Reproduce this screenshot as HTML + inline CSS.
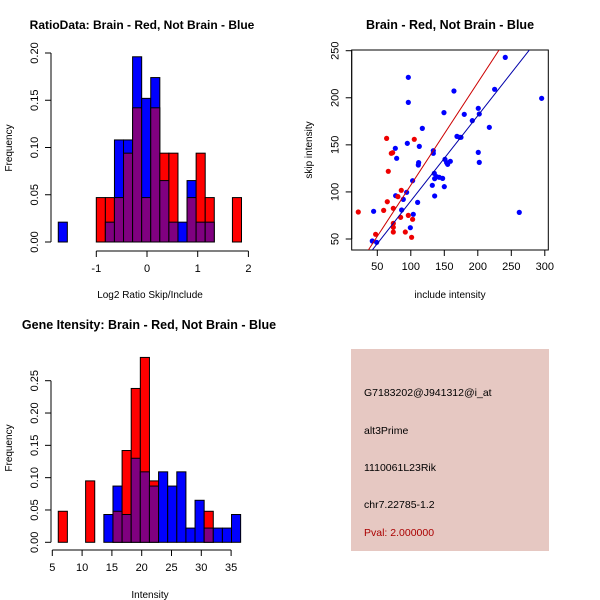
<!DOCTYPE html>
<html><head><meta charset="utf-8"><style>
body{margin:0;background:#fff}
svg{display:block;font-family:"Liberation Sans",sans-serif}
</style></head><body>
<svg id="c" width="600" height="600" xmlns="http://www.w3.org/2000/svg"></svg>
<script>
// ---------- Data: Ratio histogram ----------
const ratioBinWidth = 0.179;
const ratioRedStarts = [-1.0,-0.821,-0.642,-0.463,-0.284,-0.105,0.074,0.253,0.432,0.611,0.79,0.969,1.148,1.327,1.506,1.685];
const ratioRed = [0.047,0.047,0.047,0.094,0.142,0.047,0.142,0.094,0.094,0,0.047,0.094,0.047,0,0,0.047];
const ratioBlueStarts = [-1.75,-1.0,-0.821,-0.642,-0.463,-0.284,-0.105,0.074,0.253,0.432,0.611,0.79,0.969,1.148];
const ratioBlue = [0.021,0,0.021,0.108,0.108,0.196,0.152,0.174,0.065,0.021,0.021,0.065,0.021,0.021];
const ratioXTicks = [-1,0,1,2];
const ratioYTicks = ["0.00","0.05","0.10","0.15","0.20"];
// ---------- Data: Intensity histogram ----------
const intBinStart = 6.0, intBinWidth = 1.53;
const intRed = [0.048,0,0,0.095,0,0,0.048,0.142,0.238,0.286,0.095,0,0,0,0,0,0.048,0,0,0];
const intBlue = [0,0,0,0,0,0.043,0.087,0.043,0.130,0.109,0.087,0.109,0.087,0.109,0.022,0.065,0.022,0.022,0.022,0.043];
const intXTicks = [5,10,15,20,25,30,35];
const intYTicks = ["0.00","0.05","0.10","0.15","0.20","0.25"];
// ---------- Data: scatter ----------
const blueX = [42.5,44.5,49.0,77.4,76.9,78.9,86.3,88.8,93.8,94.8,96.3,96.3,99.3,102.7,103.7,110.2,111.7,111.2,112.7,117.2,132.1,133.6,133.6,135.1,135.6,135.6,138.6,142.5,147.5,150.0,149.5,151.0,153.5,155.0,159.0,164.4,168.9,172.9,174.9,179.8,191.8,200.7,202.2,200.7,202.2,217.2,225.1,241.0,261.9,295.3];
const blueY = [47.9,79.4,46.5,96.0,146.3,135.7,80.8,92.1,99.6,151.6,221.7,195.1,62.0,111.9,76.2,88.9,131.1,128.6,148.4,167.5,107.0,143.8,141.0,119.7,114.1,95.7,116.2,115.5,114.4,105.6,184.2,134.6,131.1,129.3,132.5,207.2,159.0,158.0,158.0,182.4,175.7,188.8,182.8,142.0,131.4,168.6,209.0,242.9,78.3,199.4];
const redX = [21.6,47.5,59.5,64.9,63.9,66.4,70.9,72.9,73.9,73.9,73.9,73.9,80.8,84.8,85.8,91.8,96.3,101.2,102.7,105.2];
const redY = [78.7,55.0,80.4,89.6,156.9,121.9,141.0,141.7,82.6,66.6,62.4,57.4,95.0,73.0,101.7,57.4,75.1,51.8,70.9,155.9];
const redFit = [-1.6,1.089];
const blueFit = [-0.2,0.906];
const scatXTicks = [50,100,150,200,250,300];
const scatYTicks = [50,100,150,200,250];

const NS="http://www.w3.org/2000/svg";
const svg=document.getElementById('c');
function el(tag,attrs,parent,txt){const e=document.createElementNS(NS,tag);for(const k in attrs)e.setAttribute(k,attrs[k]);if(txt!==undefined)e.textContent=txt;(parent||svg).appendChild(e);return e;}
const PURPLE='#800080';

function hist(g,sx,sy,starts,w,red,blueStarts,blue,nameP){
  const bars=[];
  starts.forEach((s,i)=>bars.push({s,r:red[i],b:0}));
  blueStarts.forEach((s,i)=>{let f=bars.find(o=>Math.abs(o.s-s)<1e-6);if(f)f.b=blue[i];else bars.push({s,r:0,b:blue[i]});});
  bars.forEach((o,i)=>{
    const x0=sx(o.s),x1=sx(o.s+w);
    const hi=Math.max(o.r,o.b),lo=Math.min(o.r,o.b);
    if(hi>0){const r=el('rect',{x:x0,y:sy(hi),width:x1-x0,height:sy(0)-sy(hi),fill:o.r>=o.b?'#ff0000':'#0000ff',stroke:'#000','stroke-width':1},g);
      
      }
    if(lo>0){const r=el('rect',{x:x0,y:sy(lo),width:x1-x0,height:sy(0)-sy(lo),fill:PURPLE,stroke:'#000','stroke-width':1},g);
      
      }
  });
}
function yAxis(g,x,ticks,vals,sy,ymin,ymax){
  el('line',{x1:x,x2:x,y1:sy(ymin),y2:sy(ymax),stroke:'#000'},g);
  ticks.forEach((t,i)=>{const y=sy(vals[i]);el('line',{x1:x-6,x2:x,y1:y,y2:y,stroke:'#000'},g);
    const tx=el('text',{x:x-13,y:y,'font-size':11,'text-anchor':'middle',transform:`rotate(-90 ${x-13} ${y})`},g,t);
    });
}
function xAxis(g,y,ticks,sx,xmin,xmax){
  el('line',{x1:sx(xmin),x2:sx(xmax),y1:y,y2:y,stroke:'#000'},g);
  ticks.forEach(t=>{const x=sx(t);el('line',{x1:x,x2:x,y1:y,y2:y+6,stroke:'#000'},g);
    const tx=el('text',{x:x,y:y+21,'font-size':11,'text-anchor':'middle'},g,String(t));
    });
}
function label(g,x,y,t,name,opts){const a=Object.assign({x:x,y:y,'font-size':11,'text-anchor':'middle'},opts||{});const e=el('text',a,g,t);return e;}

// Panel 1
{const g=el('g',{});
 const sx=v=>147+v*50.7, sy=v=>242-v*945;
 hist(g,sx,sy,ratioRedStarts,ratioBinWidth,ratioRed,ratioBlueStarts,ratioBlue,'ratio');
 yAxis(g,51,ratioYTicks,ratioYTicks.map(Number),sy,0,0.2);
 xAxis(g,251,ratioXTicks,sx,-1,2);
 label(g,142,29,'RatioData: Brain - Red, Not Brain - Blue','ratio-title',{'font-weight':'bold','font-size':12});
 label(g,150,298,'Log2 Ratio Skip/Include','ratio-x-axis-title',{'font-size':10});
 label(g,12,148,'Frequency','ratio-y-axis-title',{'font-size':10,transform:'rotate(-90 12 148)'});
}
// Panel 3
{const g=el('g',{});
 const sx=v=>52.3+(v-5)*5.96, sy=v=>542.3-v*646.4;
 const starts=intRed.map((_,k)=>intBinStart+k*intBinWidth);
 hist(g,sx,sy,starts,intBinWidth,intRed,starts,intBlue,'intensity');
 yAxis(g,51,intYTicks,intYTicks.map(Number),sy,0,0.25);
 xAxis(g,550,intXTicks,sx,5,35);
 label(g,149,329,'Gene Itensity: Brain - Red, Not Brain - Blue','intensity-title',{'font-weight':'bold','font-size':12.5});
 label(g,150,598,'Intensity','intensity-x-axis-title',{'font-size':10});
 label(g,12,448,'Frequency','intensity-y-axis-title',{'font-size':10,transform:'rotate(-90 12 448)'});
}
// Panel 2 scatter
{const g=el('g',{});
 const sx=v=>377.3+(v-50)*0.67, sy=v=>239-(v-50)*0.9415;
 const L=351.7,R=548.3,T=50,B=250;
 el('clipPath',{id:'cp'},g);el('rect',{x:L,y:T,width:R-L,height:B-T},g.lastChild);
 const box=el('rect',{x:L,y:T,width:R-L,height:B-T,fill:'none',stroke:'#000'},g);
 blueX.forEach((x,i)=>{const c=el('circle',{cx:sx(x),cy:sy(blueY[i]),r:2.6,fill:'#0000ff'},g);});
 redX.forEach((x,i)=>{const c=el('circle',{cx:sx(x),cy:sy(redY[i]),r:2.6,fill:'#ee0000'},g);});
 [[redFit,'#cc0000','red-fit-line'],[blueFit,'#0000aa','blue-fit-line']].forEach(([f,col,n])=>{
   const l=el('line',{x1:sx(0),y1:sy(f[0]),x2:sx(400),y2:sy(f[0]+f[1]*400),stroke:col,'stroke-width':1,'clip-path':'url(#cp)'},g);
   });
 scatXTicks.forEach(t=>{const x=sx(t);el('line',{x1:x,x2:x,y1:B,y2:B+6,stroke:'#000'},g);label(g,x,B+20,String(t),'x-tick-label');});
 el('line',{x1:sx(50),x2:sx(300),y1:B,y2:B,stroke:'#000'},g);
 scatYTicks.forEach(t=>{const y=sy(t);el('line',{x1:L-6,x2:L,y1:y,y2:y,stroke:'#000'},g);label(g,L-13,y,String(t),'y-tick-label',{transform:`rotate(-90 ${L-13} ${y})`});});
 el('line',{x1:L,x2:L,y1:sy(50),y2:sy(250),stroke:'#000'},g);
 label(g,450,29,'Brain - Red, Not Brain - Blue','scatter-title',{'font-weight':'bold','font-size':12.5});
 label(g,450,298,'include intensity','scatter-x-axis-title',{'font-size':10});
 label(g,312,150,'skip intensity','scatter-y-axis-title',{'font-size':10,transform:'rotate(-90 312 150)'});
}
// Panel 4 info box
{const g=el('g',{});
 const r=el('rect',{x:351,y:349,width:198,height:202,fill:'#e6c8c2'},g);
 label(g,364,396,'G7183202@J941312@i_at','probe-id',{'text-anchor':'start','font-size':10.5});
 label(g,364,434,'alt3Prime','event-type',{'text-anchor':'start','font-size':10.5});
 label(g,364,471,'1110061L23Rik','gene-name',{'text-anchor':'start','font-size':10.5});
 label(g,364,508,'chr7.22785-1.2','chromosome-location',{'text-anchor':'start','font-size':10.5});
 label(g,364,536,'Pval: 2.000000','p-value',{'text-anchor':'start','font-size':10.5,fill:'#aa0000'});
}
</script>
</body></html>
